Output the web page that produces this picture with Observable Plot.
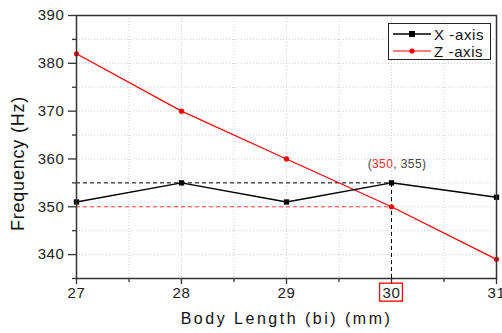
<!DOCTYPE html>
<html><head><meta charset="utf-8">
<script src="https://cdn.jsdelivr.net/npm/d3@7"></script>
<script src="https://cdn.jsdelivr.net/npm/@observablehq/plot@0.6"></script>
<style>
body{margin:0;background:#fff;font-family:"Liberation Sans",Arial,sans-serif}
#wrap{position:relative;width:502px;height:333px;overflow:hidden}
#legend{position:absolute;left:388px;top:23px;width:101px;height:35px;border:1px solid #222;background:#fff;font-size:15px;color:#111}
#legend .row{position:absolute;left:0;height:18px;display:flex;align-items:center}
#legend svg{display:block}
#legend span{margin-left:3px;letter-spacing:0.6px}
g[aria-label="x-axis tick label"] text, g[aria-label="y-axis tick label"] text{letter-spacing:0.6px}
</style></head><body><div id="wrap"></div>
<script>
const bodyLength=[27,28,29,30,31];
const xAxisFreq=[351,355,351,355,352];
const zAxisFreq=[382,370,360,350,339];
const seriesNames=["X-axis","Z-axis"];
const seriesColors=["#000000","#ff0000"];
const xTicks=[27,28,29,30,31];
const xMinorTicks=[27.5,28.5,29.5,30.5];
const yTicks=[340,350,360,370,380,390];
const yMinorTicks=[335,345,355,365,375,385];
const xDomain=[27,31];
const yDomain=[335,390];
const markedLength=30;
const markedZ=350;
const markedX=355;
const xLabel="Body Length (bi) (mm)";
const yLabel="Frequency (Hz)";

const rowsX=bodyLength.map((b,i)=>({b,f:xAxisFreq[i]}));
const rowsZ=bodyLength.map((b,i)=>({b,f:zAxisFreq[i]}));
const gridXv=d3.range(xDomain[0],xDomain[1]+0.001,0.5);
const gridYv=d3.range(yDomain[0],yDomain[1]+0.001,5);
const dash={strokeDasharray:"4,3",strokeWidth:1};
const axisStyle={stroke:"#333",strokeWidth:1.3,color:"#222"};

const plot=Plot.plot({
  width:502,height:333,
  marginLeft:76,marginRight:6,marginTop:15,marginBottom:55,
  style:{fontFamily:"'Liberation Sans',Arial,sans-serif",fontSize:"15px",color:"#222",background:"#fff"},
  x:{domain:xDomain},
  y:{domain:yDomain},
  marks:[
    Plot.gridX(gridXv,{stroke:"#cfcfcf",strokeOpacity:1,strokeDasharray:"1,2"}),
    Plot.gridY(gridYv,{stroke:"#cfcfcf",strokeOpacity:1,strokeDasharray:"1,2"}),
    Plot.ruleY([markedX],{x1:xDomain[0],x2:markedLength,stroke:"#000",...dash}),
    Plot.ruleX([markedLength],{y1:yDomain[0],y2:markedX,stroke:"#000",...dash}),
    Plot.ruleY([markedZ],{x1:xDomain[0],x2:markedLength,stroke:"#ff4040",...dash}),
    Plot.line(rowsZ,{x:"b",y:"f",stroke:seriesColors[1],strokeWidth:1.2}),
    Plot.line(rowsX,{x:"b",y:"f",stroke:seriesColors[0],strokeWidth:1.5}),
    Plot.dot(rowsZ,{x:"b",y:"f",r:2.6,fill:seriesColors[1],stroke:null}),
    Plot.dot(rowsX,{x:"b",y:"f",r:3,symbol:"square",fill:seriesColors[0],stroke:null}),
    Plot.frame({stroke:"#333",strokeWidth:1.5}),
    Plot.axisX({ticks:xTicks,tickSize:6,tickPadding:3,tickFormat:d=>String(d),label:null,...axisStyle}),
    Plot.axisX({ticks:xMinorTicks,tickSize:4,tickFormat:()=>"",label:null,...axisStyle}),
    Plot.axisY({ticks:yTicks,tickSize:8,tickPadding:4,tickFormat:d=>String(d),label:null,...axisStyle}),
    Plot.axisY({ticks:yMinorTicks,tickSize:4,tickFormat:()=>"",label:null,...axisStyle}),
    Plot.text([xLabel],{text:d=>d,frameAnchor:"bottom",dy:45,fontSize:16,fill:"#111"})
  ]
});
document.getElementById("wrap").appendChild(plot);

const svg=d3.select(plot);
svg.selectAll("text").filter(function(){return this.textContent===xLabel;}).style("letter-spacing","2.5px");

const sx=plot.scale("x"), sy=plot.scale("y");
// y axis title
svg.append("text").attr("transform",`translate(19,${(sy.apply(yDomain[0])+sy.apply(yDomain[1]))/2+17}) rotate(-90)`)
  .attr("text-anchor","middle").attr("dominant-baseline","middle").attr("font-size",18).attr("fill","#111")
  .style("letter-spacing","0.8px").text(yLabel);

// annotation (350, 355)
const ann=svg.append("text")
  .attr("x",sx.apply(markedLength)+6).attr("y",sy.apply(markedX)-14)
  .attr("text-anchor","middle").attr("font-size",12).attr("fill","#444")
  .style("letter-spacing","0.4px");
ann.append("tspan").text("(");
ann.append("tspan").attr("fill","#ff3030").text(String(markedZ));
ann.append("tspan").text(", "+markedX+")");

// red box around the marked tick label
svg.selectAll('g[aria-label="x-axis tick label"] text').each(function(){
  if(this.textContent===String(markedLength)){
    const bb=this.getBBox();
    let tx=0,ty=0;
    let node=this;
    while(node && node!==plot){
      if(node.transform && node.transform.baseVal.numberOfItems){
        const mm=node.transform.baseVal.consolidate().matrix; tx+=mm.e; ty+=mm.f;
      }
      node=node.parentNode;
    }
    svg.append("rect").attr("x",tx+bb.x-3).attr("y",ty+bb.y-1).attr("width",bb.width+5).attr("height",bb.height+1)
      .attr("fill","none").attr("stroke","#ff0000").attr("stroke-width",1.3);
  }
});

// legend
const legend=d3.select("#wrap").append("div").attr("id","legend");
seriesNames.forEach((name,i)=>{
  const row=legend.append("div").attr("class","row").style("top",(i*17+1)+"px").style("left","4px");
  const s=row.append("svg").attr("width",38).attr("height",12);
  s.append("line").attr("x1",0).attr("x2",38).attr("y1",6).attr("y2",6).attr("stroke",seriesColors[i]).attr("stroke-width",i?1.2:1.5);
  if(i===0) s.append("rect").attr("x",16).attr("y",3).attr("width",6).attr("height",6).attr("fill",seriesColors[i]);
  else s.append("circle").attr("cx",19).attr("cy",6).attr("r",2.6).attr("fill",seriesColors[i]);
  row.append("span").text(name.replace("-"," -"));
});
</script>
</body></html>
